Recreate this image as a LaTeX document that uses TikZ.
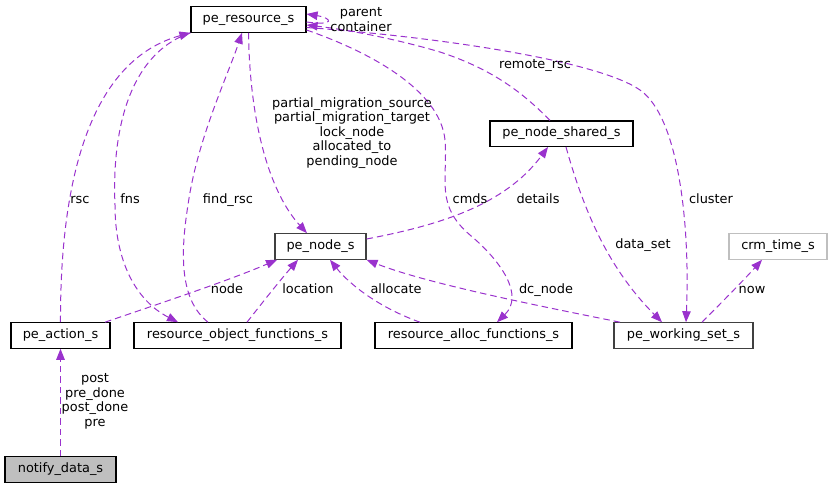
\documentclass[tikz,border=0pt]{standalone}
\usepackage{fontspec}
\setmainfont{DejaVu Sans}
\usetikzlibrary{arrows.meta}
\definecolor{edgec}{RGB}{154,50,205}
\definecolor{greyl}{RGB}{191,191,191}
\definecolor{greyd}{RGB}{64,64,64}
\begin{document}
\begin{tikzpicture}[x=1pt,y=-1pt,
  font=\fontsize{12.9}{14.5}\selectfont,
  box/.style={draw=black, line width=1.1pt, minimum height=25.5pt, inner sep=0pt,
              text height=9.5pt, text depth=3pt, fill=white},
  lbl/.style={inner sep=0pt, text height=9.5pt, text depth=3pt},
  mlbl/.style={inner sep=0pt, align=center},
  conn/.style={draw=edgec, line width=1pt, dash pattern=on 6.5pt off 4pt,
               -{Triangle[length=11pt,width=8.5pt]}}]
\useasboundingbox (0,0) rectangle (833,488);

% nodes
\node[box, minimum width=115pt] (res) at (248.5,19.5) {pe\_resource\_s};
\node[box, minimum width=143pt] (shared) at (561.5,133.7) {pe\_node\_shared\_s};
\node[box, minimum width=91pt, draw=greyd] (pnode) at (320.5,246.5) {pe\_node\_s};
\node[box, minimum width=98pt, draw=greyl] (crm) at (778,246.5) {crm\_time\_s};
\node[box, minimum width=99pt] (action) at (60.5,335.5) {pe\_action\_s};
\node[box, minimum width=207pt] (rof) at (237.5,335.5) {resource\_object\_functions\_s};
\node[box, minimum width=197pt] (raf) at (473.5,335.5) {resource\_alloc\_functions\_s};
\node[box, minimum width=139pt, draw=greyd] (ws) at (683.5,335.5) {pe\_working\_set\_s};
\node[box, minimum width=111pt, fill=greyl] (notify) at (60.5,469.5) {notify\_data\_s};

% connectors
\draw[conn] (notify.north) -- (action.south);
\draw[conn] (action.north) .. controls (60,175) and (92,60) .. (res.south west);
\draw[conn] (res.south west) .. controls (125,55) and (112,140) .. (115,205)
            .. controls (115,260) and (135,300) .. ([xshift=-59.5pt]rof.north);
\draw[conn] ([xshift=-29.5pt]rof.north) .. controls (180,300) and (180,255) .. (188,205)
            .. controls (197,140) and (228,75) .. ([xshift=-6.5pt]res.south);
\draw[conn] (res.south) .. controls (250,130) and (272,195) .. ([xshift=-13.5pt]pnode.north);
\draw[conn] ([yshift=-10.5pt]res.east) .. controls (370,52) and (440,90) .. (445,140)
            .. controls (448,180) and (435,205) .. (470,235)
            .. controls (500,260) and (525,295) .. ([xshift=23.5pt]raf.north);
\draw[conn] ([xshift=-11.5pt]shared.north) .. controls (525,95) and (495,70) .. (440,52)
            .. controls (400,40) and (350,30) .. ([yshift=-5.5pt]res.east);
\draw[conn] ([yshift=-8pt]res.east) .. controls (450,38) and (600,62) .. (640,90)
            .. controls (680,118) and (690,230) .. ([xshift=2.5pt]ws.north);
\draw[conn] ([yshift=-2.5pt]res.east) .. controls (336,26) and (332,18) .. ([yshift=5.5pt]res.east);
\draw[conn] ([yshift=7.5pt]pnode.east) .. controls (440,225) and (505,205) .. ([xshift=-13.5pt]shared.south);
\draw[conn] ([xshift=4.5pt]shared.south) .. controls (585,215) and (610,270) .. ([xshift=-21.5pt]ws.north);
\draw[conn] ([xshift=44.5pt]action.north) .. controls (170,300) and (230,280) .. ([xshift=-43.5pt]pnode.south);
\draw[conn] ([xshift=9.5pt]rof.north) .. controls (262,303) and (282,278) .. ([xshift=-22.5pt]pnode.south);
\draw[conn] ([xshift=-53.5pt]raf.north) .. controls (380,308) and (350,285) .. ([xshift=9.5pt]pnode.south);
\draw[conn] ([xshift=-63.5pt]ws.north) .. controls (560,310) and (430,285) .. (pnode.south east);
\draw[conn] ([xshift=18.5pt]ws.north) .. controls (722,302) and (742,282) .. ([xshift=-16pt]crm.south);

% labels
\node[mlbl] (lpc) at (361,19.5) {parent\\container};
\node[mlbl] (lpart) at (352,133) {partial\_migration\_source\\partial\_migration\_target\\lock\_node\\allocated\_to\\pending\_node};
\node[mlbl] (lpost) at (95,401.5) {post\\pre\_done\\post\_done\\pre};
\node[lbl] (lremote) at (535,65) {remote\_rsc};
\node[lbl] (lcmds) at (470,200) {cmds};
\node[lbl] (ldetails) at (538,200) {details};
\node[lbl] (lcluster) at (711,200) {cluster};
\node[lbl] (ldata) at (643,245.5) {data\_set};
\node[lbl] (lnow) at (752,290) {now};
\node[lbl] (ldc) at (546,290) {dc\_node};
\node[lbl] (lalloc) at (396,290) {allocate};
\node[lbl] (lrsc) at (80,200.5) {rsc};
\node[lbl] (lfns) at (130,200.5) {fns};
\node[lbl] (lfind) at (228,200.5) {find\_rsc};
\node[lbl] (lnode) at (227,290) {node};
\node[lbl] (lloc) at (308,290) {location};
\end{tikzpicture}
\end{document}
